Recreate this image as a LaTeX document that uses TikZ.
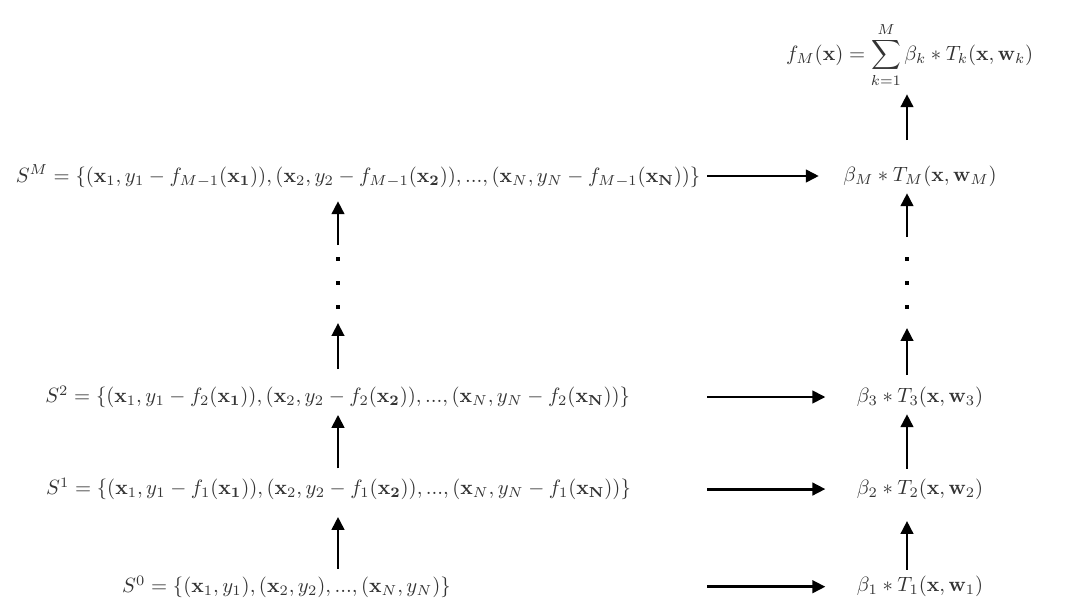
\documentclass[tikz,border=0pt]{standalone}
\usepackage{amsmath,amssymb}
\usetikzlibrary{arrows.meta, positioning}

\begin{document}
\begin{tikzpicture}[>=Stealth, semithick,
      eq/.style={text=black!80, inner sep=3pt},
      arr/.style={-{Triangle[length=0.22cm, width=0.21cm]}, line width=1.4pt},
      harr/.style={arr, shorten >=0.42cm},
      dotsq/.style={fill=black}]

    \useasboundingbox (0,0) rectangle (18.36,10.404);

    % ============================
    % COLUMNS
    % ============================
    \coordinate (lcol) at (5.746, 0);
    \coordinate (rcol) at (15.419, 0);

    % ============================
    % LEFT: residual data sets
    % ============================
    \node[eq] (s0) at (4.87, 0.43)
      {$S^0 = \{(\mathbf{x}_1, y_1), (\mathbf{x}_2, y_2), ..., (\mathbf{x}_N, y_N)\}$};
    \node[eq] (s1) at (5.755, 2.09)
      {$S^1 = \{(\mathbf{x}_1, y_1 - f_1(\mathbf{x_1})), (\mathbf{x}_2, y_2 - f_1(\mathbf{x_2})), ..., (\mathbf{x}_N, y_N - f_1(\mathbf{x_N}))\}$};
    \node[eq] (s2) at (5.74, 3.655)
      {$S^2 = \{(\mathbf{x}_1, y_1 - f_2(\mathbf{x_1})), (\mathbf{x}_2, y_2 - f_2(\mathbf{x_2})), ..., (\mathbf{x}_N, y_N - f_2(\mathbf{x_N}))\}$};
    \node[eq] (sM) at (6.086, 7.412)
      {$S^M = \{(\mathbf{x}_1, y_1 - f_{M-1}(\mathbf{x_1})), (\mathbf{x}_2, y_2 - f_{M-1}(\mathbf{x_2})), ..., (\mathbf{x}_N, y_N - f_{M-1}(\mathbf{x_N}))\}$};

    % ============================
    % RIGHT: weighted trees
    % ============================
    \node[eq] (b1) at (15.64, 0.43) {$\beta_1 * T_1(\mathbf{x}, \mathbf{w}_1)$};
    \node[eq] (b2) at (15.64, 2.09) {$\beta_2 * T_2(\mathbf{x}, \mathbf{w}_2)$};
    \node[eq] (b3) at (15.64, 3.655) {$\beta_3 * T_3(\mathbf{x}, \mathbf{w}_3)$};
    \node[eq] (bM) at (15.64, 7.412) {$\beta_M * T_M(\mathbf{x}, \mathbf{w}_M)$};
    \node[eq, anchor=west] (fM) at (13.25, 9.469)
      {$\displaystyle f_M(\mathbf{x}) = \sum_{k=1}^{M} \beta_k * T_k(\mathbf{x}, \mathbf{w}_k)$};

    % ============================
    % HORIZONTAL: data set -> tree
    % ============================
    \draw[arr, shorten >=0.3cm] (sM.east) -- (bM.west);
    \draw[harr] (s2.east -| sM.east) -- (b3.west);
    \draw[harr] (s1.east -| sM.east) -- (b2.west);
    \draw[harr] (s0.east -| sM.east) -- (b1.west);

    % ============================
    % VERTICAL: left column
    % ============================
    \draw[arr, shorten >=0.17cm] (s0.north -| lcol) -- (s1.south -| lcol);
    \draw[arr, shorten <=0.05cm] (s1.north -| lcol) -- (s2.south -| lcol);
    \coordinate (lgapA) at (5.746, 4.913);
    \coordinate (lgapB) at (5.746, 6.239);
    \draw[arr, shorten <=0.17cm] (s2.north -| lcol) -- (lgapA);
    \draw[arr, shorten >=0.12cm] (lgapB) -- (sM.south -| lcol);

    % ============================
    % VERTICAL: right column
    % ============================
    \draw[arr, shorten >=0.25cm] (b1.north -| rcol) -- (b2.south -| rcol);
    \draw[arr, shorten <=0.05cm] (b2.north -| rcol) -- (b3.south -| rcol);
    \coordinate (rgapA) at (15.419, 4.828);
    \coordinate (rgapB) at (15.419, 6.375);
    \draw[arr, shorten <=0.08cm] (b3.north -| rcol) -- (rgapA);
    \draw[arr] (rgapB) -- (bM.south -| rcol);
    \draw[arr, shorten <=0.32cm] (bM.north -| rcol) -- (fM.south -| rcol);

    % dots between the gaps
    \foreach \yy in {6.0, 5.593, 5.185} {
      \fill[dotsq] ([shift={(-0.034,-0.034)}]lcol |- 0,\yy) rectangle ++(0.068,0.068);
      \fill[dotsq] ([shift={(-0.034,-0.034)}]rcol |- 0,\yy) rectangle ++(0.068,0.068);
    }

\end{tikzpicture}
\end{document}
